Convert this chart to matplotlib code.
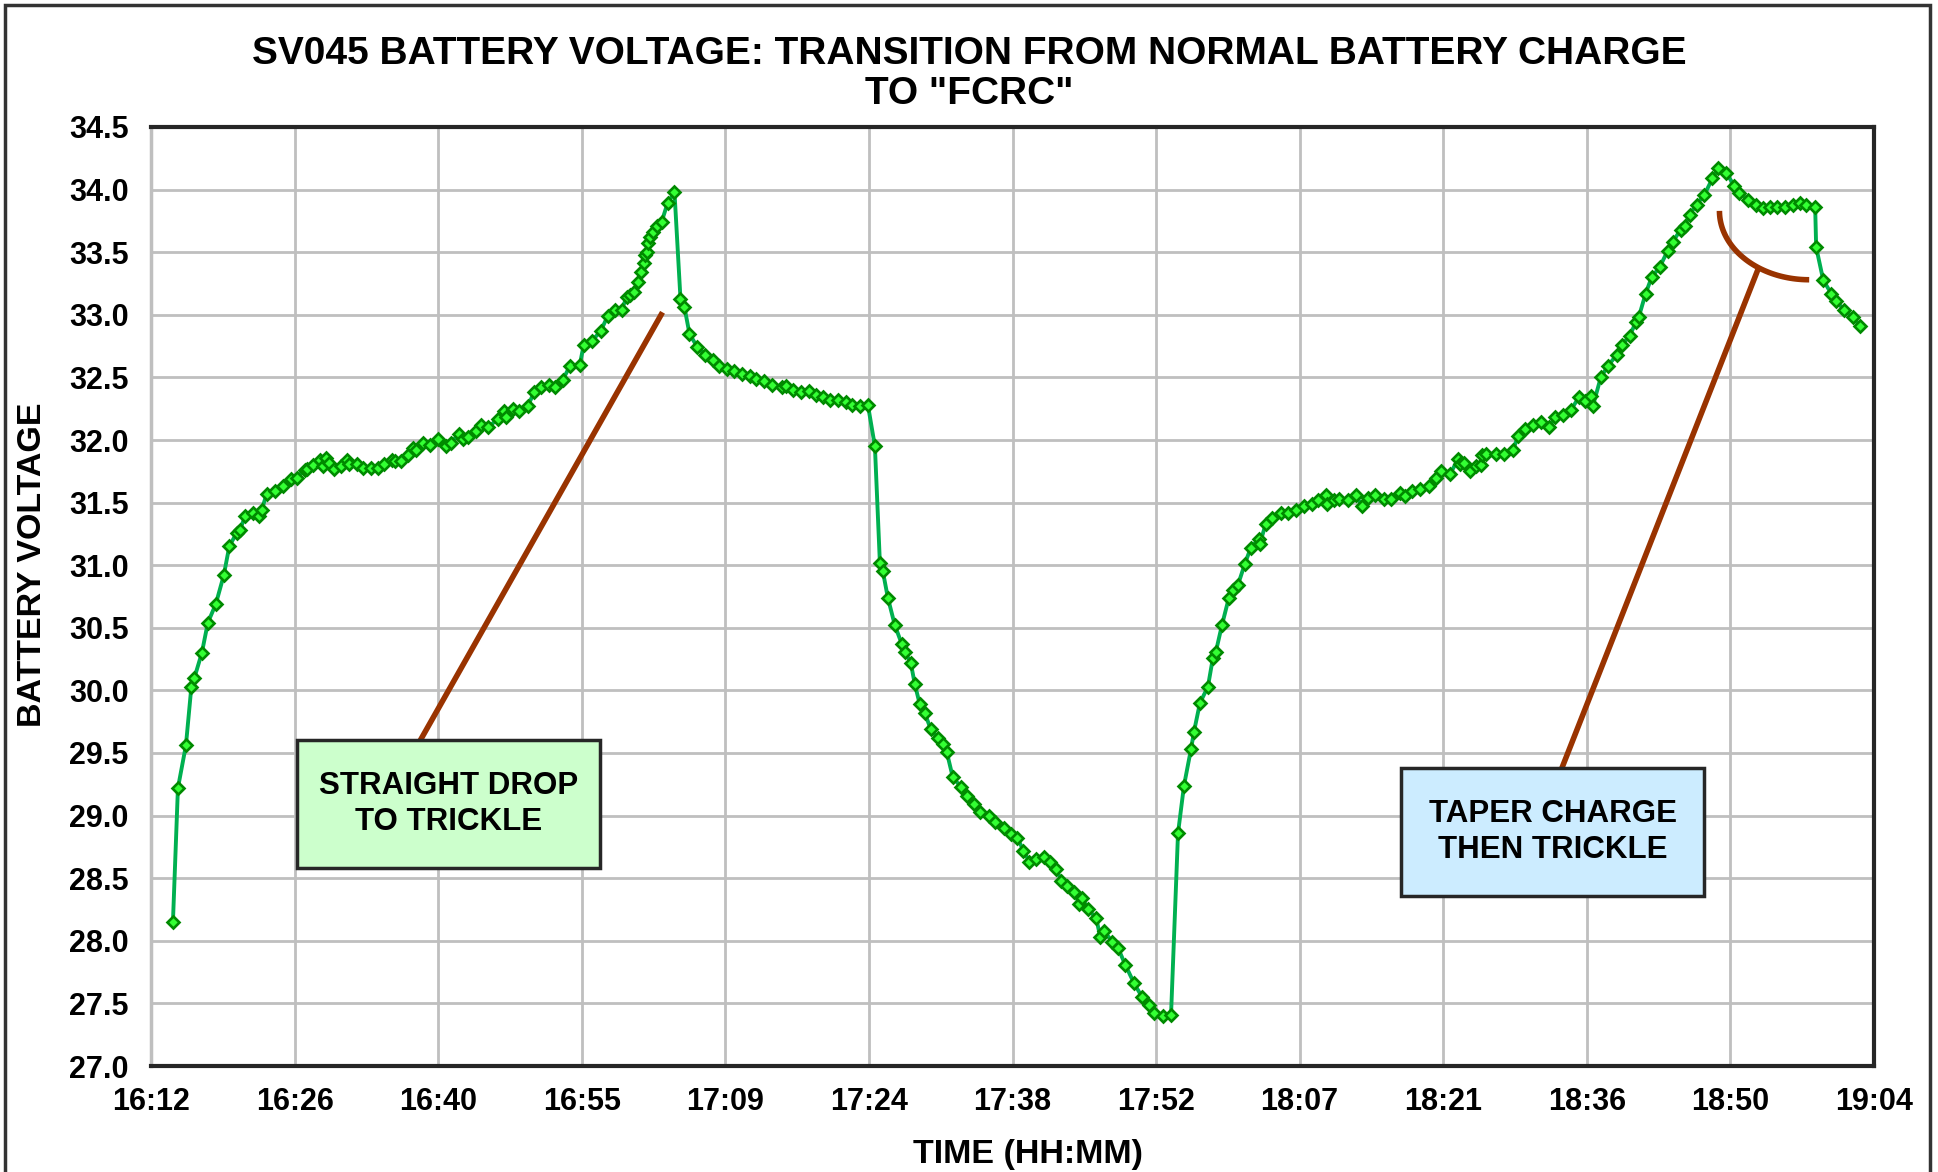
import numpy as np
import matplotlib
matplotlib.use('Agg')
import matplotlib.pyplot as plt
from matplotlib.patches import Rectangle

plt.rcParams['font.family'] = ['Liberation Sans', 'DejaVu Sans']
plt.rcParams['font.weight'] = 'bold'

# minutes after 16:12:00, battery voltage
minutes = [
    2.2, 2.7, 3.5, 4.05, 4.35, 5.1, 5.7, 6.5, 7.3, 7.85, 8.6, 8.9, 9.45, 10.2, 10.8, 11.1,
    11.6, 12.4, 13.2, 14.0, 14.6, 15.4, 15.6, 16.2, 16.9, 17.2, 17.6, 17.9, 18.4, 19.1,
    19.7, 19.9, 20.7, 21.3, 22.1, 22.8, 23.4, 24.2, 24.5, 25.1, 25.8, 26.3, 26.6, 27.3,
    28.0, 28.8, 29.6, 30.1, 30.9, 31.3, 31.8, 32.6, 33.1, 33.8, 34.8, 35.4, 35.6, 36.3,
    36.9, 37.8, 38.4, 39.1, 39.9, 40.5, 41.3, 42.0, 43.0, 43.4, 44.2, 45.1, 45.8, 46.5,
    47.2, 47.7, 48.0, 48.4, 48.8, 49.1, 49.4, 49.5, 49.7, 49.8, 50.0, 50.3, 50.7, 51.2,
    51.8, 52.5,
    53.1, 53.5, 54.0, 54.8, 55.6, 56.4, 57.0, 57.8, 58.5, 59.3, 60.1, 60.7, 61.5, 62.3,
    63.3, 63.7, 64.4, 65.2, 66.0, 66.7, 67.4, 68.1, 68.9, 69.7, 70.3, 71.1, 71.9,
    72.6, 73.1, 73.4, 73.9, 74.6, 75.3, 75.6, 76.2, 76.6, 77.1, 77.6, 78.2, 78.9, 79.4,
    79.8, 80.4, 81.2, 81.8, 82.5, 83.1, 84.0, 84.6, 85.5, 86.2, 86.9, 87.5, 88.1, 88.8,
    89.6, 90.2, 90.8, 91.3, 91.9, 92.6, 93.1, 93.4, 94.0, 94.8, 95.2, 95.6, 96.4, 97.0,
    97.7, 98.6, 99.4, 100.1, 100.6, 101.5, 102.3,
    103.0, 103.6, 104.3, 104.6, 105.2, 106.0, 106.5, 106.8, 107.4, 108.1, 108.5, 109.0,
    109.7, 110.3, 111.1, 111.2, 111.8, 112.4, 113.3, 114.0, 114.8, 115.6, 116.4, 117.0,
    117.8, 117.9, 118.6, 119.1, 120.0, 120.8, 121.5, 122.1, 122.8, 123.7, 124.4, 125.3,
    125.8, 126.5, 127.3, 128.2, 128.9, 129.4, 130.3, 131.1, 131.3, 131.7, 132.3, 132.9,
    133.4, 133.5, 133.9, 134.9, 135.7, 136.6, 137.1, 137.8, 138.6, 139.4, 140.2, 140.8,
    141.6, 142.4, 143.2, 143.8, 144.4, 144.6, 145.4, 146.1, 147.0, 147.5, 148.3, 148.9,
    149.2, 149.9, 150.5, 151.3, 152.1, 152.6, 153.4, 153.8, 154.3, 155.0, 155.8, 156.6,
    157.2, 158.0, 158.8, 159.3, 160.2, 161.0, 161.7, 162.4, 163.1, 163.9, 164.7, 165.4,
    166.0, 166.9, 167.0, 167.7, 168.5, 169.0, 169.8, 170.7, 171.4,
]
volts = [
    28.15, 29.22, 29.56, 30.03, 30.10, 30.30, 30.54, 30.69, 30.92, 31.15, 31.26, 31.28, 31.39, 31.42, 31.39, 31.44,
    31.57, 31.59, 31.63, 31.69, 31.70, 31.76, 31.77, 31.80, 31.84, 31.79, 31.86, 31.82, 31.77, 31.79,
    31.84, 31.81, 31.81, 31.78, 31.78, 31.78, 31.81, 31.84, 31.83, 31.83, 31.88, 31.94, 31.92, 31.98,
    31.96, 32.01, 31.95, 31.98, 32.05, 32.01, 32.02, 32.07, 32.12, 32.10, 32.17, 32.23, 32.18, 32.25,
    32.23, 32.27, 32.38, 32.42, 32.44, 32.42, 32.48, 32.59, 32.60, 32.76, 32.79, 32.87, 32.99, 33.04,
    33.04, 33.14, 33.16, 33.18, 33.26, 33.34, 33.41, 33.48, 33.50, 33.57, 33.62, 33.66, 33.71, 33.74,
    33.89, 33.98,
    33.13, 33.06, 32.85, 32.74, 32.68, 32.64, 32.59, 32.57, 32.55, 32.53, 32.51, 32.49, 32.47, 32.44,
    32.42, 32.43, 32.40, 32.38, 32.39, 32.36, 32.34, 32.32, 32.32, 32.30, 32.28, 32.27, 32.28,
    31.95, 31.02, 30.95, 30.74, 30.52, 30.37, 30.31, 30.22, 30.05, 29.89, 29.82, 29.69, 29.62, 29.57,
    29.51, 29.31, 29.23, 29.16, 29.09, 29.03, 29.00, 28.95, 28.90, 28.85, 28.82, 28.72, 28.63, 28.65,
    28.67, 28.63, 28.57, 28.48, 28.44, 28.39, 28.29, 28.34, 28.25, 28.18, 28.03, 28.08, 27.99, 27.94,
    27.81, 27.66, 27.55, 27.49, 27.42, 27.40, 27.41,
    28.86, 29.24, 29.53, 29.67, 29.90, 30.03, 30.26, 30.31, 30.52, 30.74, 30.80, 30.84,
    31.01, 31.14, 31.21, 31.17, 31.33, 31.38, 31.42, 31.42, 31.44, 31.47, 31.49, 31.52,
    31.56, 31.49, 31.52, 31.53, 31.52, 31.56, 31.47, 31.54, 31.56, 31.53, 31.53, 31.58,
    31.55, 31.59, 31.61, 31.63, 31.70, 31.75, 31.73, 31.85, 31.81, 31.82, 31.75, 31.79,
    31.80, 31.88, 31.89, 31.89, 31.89, 31.92, 32.03, 32.09, 32.12, 32.14, 32.10, 32.18,
    32.20, 32.24, 32.34, 32.31, 32.35, 32.27, 32.50, 32.59, 32.68, 32.76, 32.83, 32.94,
    32.98, 33.17, 33.30, 33.38, 33.51, 33.58, 33.68, 33.71, 33.80, 33.88, 33.96, 34.09,
    34.17, 34.13, 34.03, 33.97, 33.92, 33.88, 33.85, 33.86, 33.86, 33.86, 33.88, 33.89,
    33.88, 33.86, 33.54, 33.28, 33.17, 33.11, 33.04, 32.98, 32.91,
]

x_tick_labels = ['16:12', '16:26', '16:40', '16:55', '17:09', '17:24', '17:38',
                 '17:52', '18:07', '18:21', '18:36', '18:50', '19:04']
y_ticks = [27.0, 27.5, 28.0, 28.5, 29.0, 29.5, 30.0, 30.5, 31.0, 31.5, 32.0, 32.5,
           33.0, 33.5, 34.0, 34.5]

W, H = 1938, 1172
fig = plt.figure(figsize=(W / 100, H / 100), dpi=100)
ax = fig.add_axes([151 / W, 1 - 1066 / H, (1874 - 151) / W, (1066 - 127) / H])

ax.plot(minutes, volts, color='#00B050', lw=2.8, marker='D', markersize=5.8,
        markerfacecolor='#33FF33', markeredgecolor='#008A00', markeredgewidth=1.9, zorder=3)

# excel time axis: major unit 0.01 day = 14.4 min
ax.set_xlim(0, 172.8)
ax.set_xticks(np.arange(len(x_tick_labels)) * 14.4)
ax.set_xticklabels(x_tick_labels)
ax.set_ylim(27.0, 34.5)
ax.set_yticks(y_ticks)
ax.set_yticklabels([f'{v:.1f}' for v in y_ticks])
ax.tick_params(length=0, labelsize=22)
ax.tick_params(axis='y', pad=16)
ax.tick_params(axis='x', pad=15)
for lab in ax.get_xticklabels() + ax.get_yticklabels():
    lab.set_fontweight('bold')

ax.grid(True, color='#BFBFBF', lw=2)
ax.set_axisbelow(True)
for side in ['top', 'right', 'bottom']:
    ax.spines[side].set_color('#262626')
    ax.spines[side].set_linewidth(3)
ax.spines['left'].set_color('#BFBFBF')
ax.spines['left'].set_linewidth(2.5)

# annotations
brown = '#993300'
ax.plot([27.0, 51.3], [29.60, 33.02], color=brown, lw=4, solid_capstyle='butt', zorder=4)
ax.plot([141.5, 161.25], [29.38, 33.38], color=brown, lw=4, solid_capstyle='butt', zorder=4)
th = np.linspace(np.pi, 1.5 * np.pi, 60)
ax.plot(166.3 + 9.0 * np.cos(th), 33.83 + 0.55 * np.sin(th), color=brown, lw=4,
        solid_capstyle='butt', zorder=4)

ax.add_patch(Rectangle((14.6, 28.58), 30.4, 1.02, facecolor='#CCFFCC',
                       edgecolor='#262626', lw=2.5, zorder=5))
ax.text(29.8, 29.09, 'STRAIGHT DROP\nTO TRICKLE', ha='center', va='center',
        fontsize=22.5, fontweight='bold', linespacing=1.25, zorder=6)
ax.add_patch(Rectangle((125.4, 28.36), 30.4, 1.02, facecolor='#CCECFF',
                       edgecolor='#262626', lw=2.5, zorder=5))
ax.text(140.6, 28.87, 'TAPER CHARGE\nTHEN TRICKLE', ha='center', va='center',
        fontsize=22.5, fontweight='bold', linespacing=1.25, zorder=6)

fig.text(0.5, 1 - 74 / H, 'SV045 BATTERY VOLTAGE: TRANSITION FROM NORMAL BATTERY CHARGE\nTO "FCRC"',
         ha='center', va='center', fontsize=28, fontweight='bold', linespacing=1.12)
fig.text(33 / W, 1 - 565 / H, 'BATTERY VOLTAGE', rotation=90, ha='center', va='center',
         fontsize=24.5, fontweight='bold')
fig.text(1028 / W, 1 - 1155 / H, 'TIME (HH:MM)', ha='center', va='center',
         fontsize=24.5, fontweight='bold')

# chart border
fig.patches.append(Rectangle((5 / W, -0.05), (1930 - 5) / W, 1.05 - 5 / H,
                             transform=fig.transFigure, fill=False,
                             edgecolor='#333333', lw=2.5))

fig.savefig('out.png', dpi=100)
